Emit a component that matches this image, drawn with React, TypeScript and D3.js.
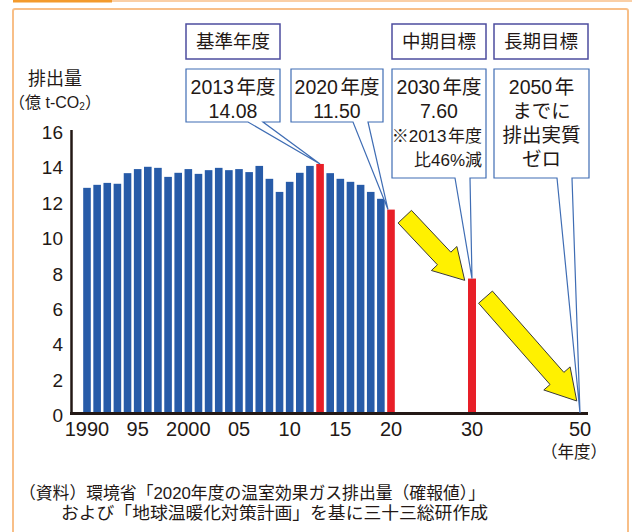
import { useEffect, useRef } from 'react';
import * as d3 from 'd3';

// 温室効果ガス排出量（億t-CO2）1990〜2020年度
const startYear = 1990;
const emissions = [
    12.73, 12.90, 13.01, 12.96, 13.56, 13.79, 13.92, 13.86, 13.35, 13.58,
    13.79, 13.52, 13.73, 13.86, 13.73, 13.79, 13.62, 13.97, 13.24, 12.50,
    13.07, 13.58, 13.97, 14.08, 13.56, 13.24, 13.07, 12.90, 12.50, 12.11,
    11.50,
];
const highlightYears = [2013, 2020];
const targetYears = [2030];
const targetValues = [7.60];

const xTicks = [1990, 1995, 2000, 2005, 2010, 2015, 2020, 2030, 2050];
const xTickLabels = ['1990', '95', '2000', '05', '10', '15', '20', '30', '50'];
const yTicks = [0, 2, 4, 6, 8, 10, 12, 14, 16];

// 上段の見出し
const headerLabels = ['基準年度', '中期目標', '長期目標'];
// 吹き出し: 指す年と値、本文
const calloutYears = [2013, 2020, 2030, 2050];
const calloutValues = [14.08, 11.50, 7.60, 0];
const calloutLines = [
    ['2013|年度', '14.08'],
    ['2020|年度', '11.50'],
    ['2030|年度', '7.60', '※2013|年度', '比46%減'],
    ['2050|年', 'までに', '排出実質', 'ゼロ'],
];
// 矢印（年, 値）: 始点 → 先端
const arrowFrom = [[2021.7, 11.1], [2032.5, 6.55]];
const arrowTo = [[2029.1, 7.5], [2049.4, 0.68]];

const sourceLines = [
    '（資料）環境省「2020年度の温室効果ガス排出量（確報値）」',
    'および「地球温暖化対策計画」を基に三十三総研作成',
];

export default function App() {
    const svgRef = useRef<SVGSVGElement>(null);

    useEffect(() => {
        if (!svgRef.current) return;
        const svg = d3.select(svgRef.current);
        svg.selectAll('*').remove();

        const font = '"Liberation Sans", "Noto Sans CJK JP", sans-serif';
        const ink = '#231815';
        const blue = '#275ba8';
        const red = '#e81f28';
        const frame = '#f8bf88';

        // x is squeezed after 2020 like the original
        const x = d3.scaleLinear().domain([1990, 2020, 2030, 2050]).range([87, 391, 472, 580]);
        const y = d3.scaleLinear().domain([0, 16]).range([413, 130]);

        // --- panel frame ---
        svg.append('line')
            .attr('x1', 13).attr('x2', 632).attr('y1', 1).attr('y2', 1)
            .attr('stroke', frame).attr('stroke-width', 1.5);
        svg.append('rect')
            .attr('x', 13).attr('y', 0).attr('width', 99).attr('height', 2.5)
            .attr('fill', '#f39a2c');
        svg.append('rect')
            .attr('x', 13).attr('y', 9).attr('width', 615).attr('height', 540)
            .attr('rx', 2)
            .attr('fill', '#fff').attr('stroke', frame).attr('stroke-width', 2);

        // --- bars ---
        const hist = emissions.map((v, i) => ({ year: startYear + i, value: v }));
        svg.selectAll('rect.bar')
            .data(hist)
            .enter()
            .append('rect')
            .attr('class', 'bar')
            .attr('x', d => x(d.year) - 3.8)
            .attr('width', 7.6)
            .attr('y', d => y(d.value))
            .attr('height', d => y(0) - y(d.value))
            .attr('fill', d => highlightYears.includes(d.year) ? red : blue);

        svg.selectAll('rect.target')
            .data(targetYears.map((yr, i) => ({ year: yr, value: targetValues[i] })))
            .enter()
            .append('rect')
            .attr('class', 'target')
            .attr('x', d => x(d.year) - 4)
            .attr('width', 8)
            .attr('y', d => y(d.value))
            .attr('height', d => y(0) - y(d.value))
            .attr('fill', red);

        // --- arrows ---
        const arrowPath = (from: number[], to: number[]) => {
            const x0 = x(from[0]), y0 = y(from[1]);
            const x1 = x(to[0]), y1 = y(to[1]);
            const len = Math.hypot(x1 - x0, y1 - y0);
            const ux = (x1 - x0) / len, uy = (y1 - y0) / len;
            const nx = -uy, ny = ux;
            const shaft = 9.2, head = 17.5, headLen = 30;
            const bx = x1 - ux * headLen, by = y1 - uy * headLen;
            const pts: [number, number][] = [
                [x0 + nx * shaft, y0 + ny * shaft],
                [bx + nx * shaft, by + ny * shaft],
                [bx + nx * head, by + ny * head],
                [x1, y1],
                [bx - nx * head, by - ny * head],
                [bx - nx * shaft, by - ny * shaft],
                [x0 - nx * shaft, y0 - ny * shaft],
            ];
            return d3.line()(pts) + 'Z';
        };
        arrowFrom.forEach((f, i) => {
            svg.append('path')
                .attr('d', arrowPath(f, arrowTo[i]))
                .attr('fill', '#fff100')
                .attr('stroke', '#3a3a3a')
                .attr('stroke-width', 1)
                .attr('stroke-linejoin', 'miter');
        });

        // --- axes ---
        svg.append('line')
            .attr('x1', 71.5).attr('x2', 71.5).attr('y1', y(16)).attr('y2', y(0) + 1.5)
            .attr('stroke', ink).attr('stroke-width', 2.5);
        svg.append('line')
            .attr('x1', 70).attr('x2', 588).attr('y1', y(0) + 0.5).attr('y2', y(0) + 0.5)
            .attr('stroke', ink).attr('stroke-width', 3);

        svg.selectAll('text.ytick')
            .data(yTicks)
            .enter()
            .append('text')
            .attr('x', 63)
            .attr('y', d => y(d) + 9)
            .attr('text-anchor', 'end')
            .attr('font-family', font)
            .attr('font-size', 19)
            .attr('fill', ink)
            .text(d => d);

        svg.selectAll('text.xtick')
            .data(xTicks)
            .enter()
            .append('text')
            .attr('x', d => x(d))
            .attr('y', 436)
            .attr('text-anchor', 'middle')
            .attr('font-family', font)
            .attr('font-size', 20)
            .attr('fill', ink)
            .text((d, i) => xTickLabels[i]);

        svg.append('text')
            .attr('x', 574).attr('y', 458)
            .attr('text-anchor', 'middle')
            .attr('font-family', font).attr('font-size', 16.5).attr('fill', ink)
            .text('（年度）');

        svg.append('text')
            .attr('x', 55).attr('y', 85)
            .attr('text-anchor', 'middle')
            .attr('font-family', font).attr('font-size', 18).attr('fill', ink)
            .text('排出量');
        const unit = svg.append('text')
            .attr('x', 55).attr('y', 108)
            .attr('text-anchor', 'middle')
            .attr('font-family', font).attr('font-size', 16).attr('fill', ink);
        unit.append('tspan').text('（億 t-CO');
        unit.append('tspan').attr('font-size', 10).attr('dy', 2).text('2');
        unit.append('tspan').attr('dy', -2).text('）');

        // --- header boxes ---
        const boxLeft = [186, 392, 494];
        const boxW = 94;
        headerLabels.forEach((label, i) => {
            svg.append('rect')
                .attr('x', boxLeft[i]).attr('y', 24).attr('width', boxW).attr('height', 35)
                .attr('fill', '#fff').attr('stroke', '#4c4c9e').attr('stroke-width', 1.5);
            svg.append('text')
                .attr('x', boxLeft[i] + boxW / 2).attr('y', 48)
                .attr('text-anchor', 'middle')
                .attr('font-family', font).attr('font-size', 18.5).attr('fill', ink)
                .text(label);
        });

        // --- callouts ---
        const calloutLeft = [186, 291, 392, 494];
        const calloutW = [94, 92, 94, 95];
        const calloutBottom = [122, 122, 178, 178];
        const pointerBase = [[248, 263], [353, 368], [455, 470], [557, 572]];
        calloutYears.forEach((yr, i) => {
            const l = calloutLeft[i], r = l + calloutW[i], b = calloutBottom[i];
            const tipX = x(yr) + (i === 1 ? -3 : 0);
            const tipY = y(calloutValues[i]);
            const p = d3.path();
            p.moveTo(l, 69);
            p.lineTo(r, 69);
            p.lineTo(r, b);
            p.lineTo(pointerBase[i][1], b);
            p.lineTo(tipX, tipY);
            p.lineTo(pointerBase[i][0], b);
            p.lineTo(l, b);
            p.closePath();
            svg.append('path')
                .attr('d', p.toString())
                .attr('fill', '#fff')
                .attr('stroke', '#3f6db4')
                .attr('stroke-width', 1.2);

            calloutLines[i].forEach((ln, j) => {
                const small = i === 2 && j >= 2;
                const t = svg.append('text')
                    .attr('x', small ? r - 4 : (l + r) / 2)
                    .attr('y', 94 + j * 24)
                    .attr('text-anchor', small ? 'end' : 'middle')
                    .attr('font-family', font)
                    .attr('font-size', small ? 17 : 19.5)
                    .attr('fill', ink);
                const parts = ln.split('|');
                t.append('tspan').text(parts[0]);
                if (parts[1]) t.append('tspan').attr('dx', small ? 1.5 : 2.5).text(parts[1]);
            });
        });

        // --- source note ---
        const sourceWidth = [466, 427];
        sourceLines.forEach((s, i) => {
            svg.append('text')
                .attr('x', i === 0 ? 19 : 61)
                .attr('y', 499 + i * 20)
                .attr('font-family', font).attr('font-size', 17).attr('fill', ink)
                .attr('textLength', sourceWidth[i])
                .attr('lengthAdjust', 'spacingAndGlyphs')
                .text(s);
        });
    }, []);

    return (
        <svg
            ref={svgRef}
            width={632}
            height={532}
            style={{ position: 'absolute', left: 0, top: 0, background: '#fff' }}
        />
    );
}
